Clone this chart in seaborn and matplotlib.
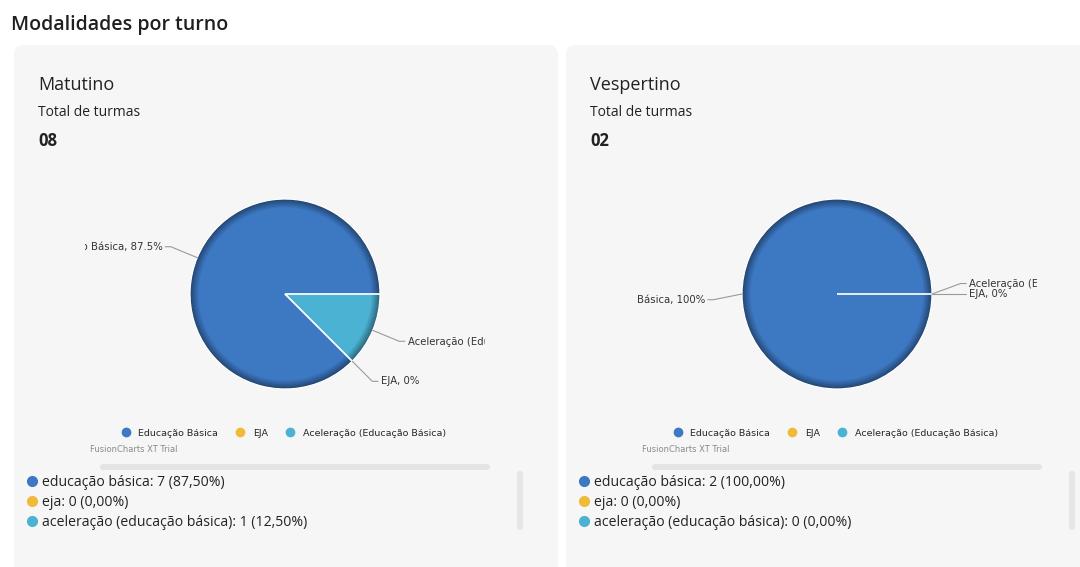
import numpy as np
import seaborn as sns
import matplotlib.pyplot as plt
from matplotlib.patches import FancyBboxPatch
from matplotlib.lines import Line2D
from matplotlib.colors import to_rgb

# dados
titulo = "Modalidades por turno"
turnos = ["Matutino", "Vespertino"]
totais = ["08", "02"]
modalidades = ["Educação Básica", "EJA", "Aceleração (Educação Básica)"]
matutino = [7, 0, 1]
vespertino = [2, 0, 0]
cores = ["#3d78c3", "#f0bb3a", "#4cb2d4"]

sns.set_theme(style="white")
plt.rcParams['font.family'] = ['Open Sans', 'DejaVu Sans']

W, H = 1080, 567
fig = plt.figure(figsize=(W / 100, H / 100), dpi=100)
fig.patch.set_facecolor('white')

# eixo de fundo em pixels
bg = fig.add_axes([0, 0, 1, 1])
bg.set_xlim(0, W)
bg.set_ylim(H, 0)
bg.axis('off')

bg.text(11, 25, titulo, fontsize=14, fontweight='semibold', color='#1f1f1f', va='center', ha='left')


def fmt_pct(p):
    s = f"{p:.1f}".rstrip('0').rstrip('.')
    return s + "%"


def draw_card(x0, turno, total, valores):
    card = FancyBboxPatch((x0, 45), 544, 600, boxstyle="round,pad=0,rounding_size=10",
                          facecolor='#f6f6f6', edgecolor='none')
    bg.add_patch(card)
    bg.text(x0 + 24, 85, turno, fontsize=13, color='#222222', va='center')
    bg.text(x0 + 24, 113, "Total de turmas", fontsize=10, color='#222222', va='center')
    bg.text(x0 + 24, 141, total, fontsize=12, fontweight='bold', color='#222222', va='center')

    # area do grafico (canvas do pie)
    cx0 = x0 + 71
    cw, r_px = 400, 95
    cy, top, bottom = 294, 180, 410
    ax = fig.add_axes([cx0 / W, 1 - bottom / H, cw / W, (bottom - top) / H])
    ax.set_facecolor('none')

    vals = np.array(valores, dtype=float)
    pct = vals / vals.sum() * 100

    # sombreamento da borda
    n = 10
    for i, r in enumerate(np.linspace(1.0, 0.91, n)):
        f = 0.58 + 0.42 * i / (n - 1)
        cs = [tuple(np.array(to_rgb(c)) * f) for c in cores]
        ax.pie(vals, colors=cs, radius=r, startangle=0, counterclock=True,
               wedgeprops=dict(edgecolor='none', linewidth=0))
    ax.pie(vals, colors=cores, radius=0.9, startangle=0, counterclock=True,
           wedgeprops=dict(edgecolor='none', linewidth=0))
    wedges, _ = ax.pie(vals, radius=1.0, startangle=0, counterclock=True,
                       wedgeprops=dict(fill=False, edgecolor='white', linewidth=0.9))

    # rotulos com linhas
    last_y = {1: None, -1: None}
    for w, m, p in zip(wedges, modalidades, pct):
        ang = np.deg2rad((w.theta1 + w.theta2) / 2)
        ex, ey = np.cos(ang), np.sin(ang)
        side = 1 if ex >= 0 else -1
        lx, ly = 1.3 * ex, 1.3 * ey
        if side < 0 and abs(ey) < 0.05:
            ly = ly - 0.06
        if last_y[side] is not None and abs(ly - last_y[side]) < 0.1:
            ly = last_y[side] + 0.11
        last_y[side] = ly
        ax.plot([ex, lx, lx + side * 0.06], [ey, ly, ly], color='#9a9a9a', lw=0.8, clip_on=True)
        ax.text(lx + side * 0.09, ly, f"{m}, {fmt_pct(p)}", fontsize=7.3,
                family='DejaVu Sans', color='#333333', ha='left' if side > 0 else 'right',
                va='center', clip_on=True)

    ax.set_aspect('auto')
    ax.set_xlim(-200 / r_px, 200 / r_px)
    ax.set_ylim((cy - bottom) / r_px, (cy - top) / r_px)
    ax.axis('off')

    handles = [Line2D([], [], marker='o', linestyle='', markersize=6, color=c) for c in cores]
    ax.legend(handles, modalidades, loc='center', bbox_to_anchor=(0.49, (bottom - 433) / (bottom - top)),
              ncol=3, frameon=False, handletextpad=0.3, columnspacing=1.4,
              prop=dict(family='DejaVu Sans', size=6.8))
    bg.text(cx0 + 5, 450, "FusionCharts XT Trial", fontsize=6, family='DejaVu Sans',
            color='#8a8a8a', va='center')

    # barras de rolagem
    bg.add_patch(FancyBboxPatch((x0 + 86, 464), 390, 6, boxstyle="round,pad=0,rounding_size=3",
                                facecolor='#e4e4e4', edgecolor='none'))
    bg.add_patch(FancyBboxPatch((x0 + 503, 471), 6, 59, boxstyle="round,pad=0,rounding_size=3",
                                facecolor='#e6e6e6', edgecolor='none'))

    # lista
    for k, (m, v, p, c) in enumerate(zip(modalidades, valores, pct, cores)):
        y = 481 + 20 * k
        bg.plot(x0 + 18, y, marker='o', markersize=7, color=c, linestyle='')
        txt = f"{m.lower()}: {v} ({p:.2f}%)".replace('.', ',')
        bg.text(x0 + 28, y + 1.5, txt, fontsize=10.1, color='#222222', va='center')


draw_card(14, turnos[0], totais[0], matutino)
draw_card(566, turnos[1], totais[1], vespertino)

fig.savefig('out.png', dpi=100, facecolor='white')
